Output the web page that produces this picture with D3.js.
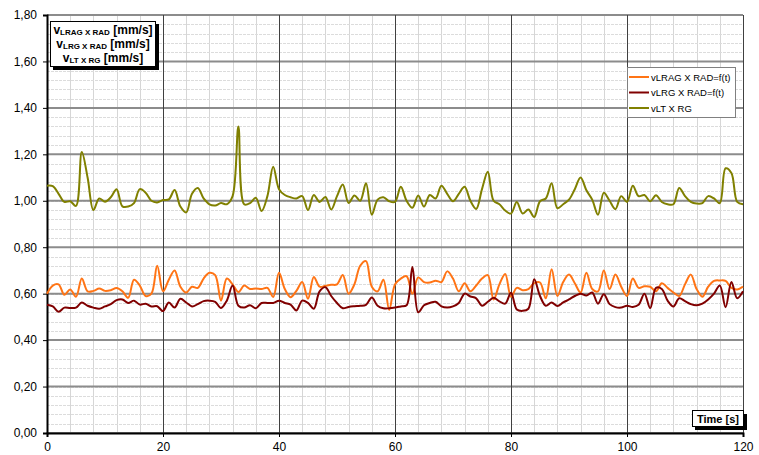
<!DOCTYPE html>
<html>
<head>
<meta charset="utf-8">
<script src="https://cdn.jsdelivr.net/npm/d3@7"></script>
<style>
  body { margin: 0; background: #fff; }
  svg { font-family: "Liberation Sans", Arial, sans-serif; }
</style>
</head>
<body>
<svg id="chart"></svg>
<script>
// time in seconds (one reading per second)
const time = [0,1,2,3,4,5,6,7,8,9,10,11,12,13,14,15,16,17,18,19,20,21,22,23,24,25,26,27,28,29,30,
  31,32,33,34,35,36,37,38,39,40,41,42,43,44,45,46,47,48,49,50,51,52,53,54,55,56,57,58,59,60,
  61,62,63,64,65,66,67,68,69,70,71,72,73,74,75,76,77,78,79,80,81,82,83,84,85,86,87,88,89,90,
  91,92,93,94,95,96,97,98,99,100,101,102,103,104,105,106,107,108,109,110,111,112,113,114,115,116,117,118,119,120];

// vLRAG X RAD [mm/s]
const vLRAG = [0.60,0.635,0.64,0.595,0.618,0.587,0.665,0.61,0.612,0.622,0.612,0.615,0.624,0.61,0.582,0.66,0.635,0.59,0.60,0.72,0.61,0.66,0.70,0.63,0.605,
  0.63,0.625,0.665,0.69,0.68,0.57,0.665,0.64,0.607,0.635,0.62,0.622,0.62,0.625,0.586,0.69,0.62,0.585,0.612,0.65,0.578,0.672,0.63,0.634,
  0.638,0.64,0.68,0.60,0.64,0.72,0.74,0.63,0.61,0.66,0.53,0.64,0.665,0.675,0.60,0.67,0.65,0.648,0.656,0.65,0.696,0.665,0.61,0.645,
  0.61,0.635,0.665,0.68,0.575,0.64,0.685,0.587,0.625,0.615,0.62,0.645,0.648,0.58,0.705,0.59,0.65,0.682,0.645,0.605,0.69,0.62,0.61,0.70,
  0.62,0.682,0.63,0.59,0.665,0.625,0.632,0.63,0.61,0.645,0.625,0.605,0.59,0.64,0.682,0.62,0.587,0.63,0.655,0.657,0.655,0.625,0.618,0.63];

// vLRG X RAD [mm/s]
const vLRG = [0.552,0.545,0.522,0.54,0.538,0.54,0.562,0.548,0.54,0.535,0.545,0.555,0.572,0.575,0.56,0.57,0.553,0.557,0.545,0.546,0.525,0.562,0.54,0.578,0.562,
  0.545,0.555,0.568,0.57,0.565,0.538,0.57,0.635,0.548,0.54,0.55,0.537,0.56,0.56,0.56,0.57,0.56,0.553,0.528,0.57,0.56,0.535,0.61,0.628,
  0.59,0.56,0.537,0.543,0.546,0.548,0.552,0.583,0.548,0.537,0.537,0.54,0.545,0.55,0.715,0.52,0.55,0.56,0.565,0.545,0.54,0.545,0.56,0.60,
  0.588,0.58,0.548,0.565,0.582,0.567,0.557,0.604,0.532,0.526,0.535,0.662,0.59,0.548,0.562,0.547,0.562,0.575,0.59,0.60,0.592,0.605,0.557,0.598,
  0.555,0.542,0.54,0.548,0.543,0.552,0.60,0.538,0.625,0.62,0.57,0.545,0.58,0.568,0.555,0.55,0.557,0.575,0.60,0.635,0.542,0.65,0.58,0.61];

// vLT X RG [mm/s]
const vLT = [1.065,1.063,1.03,0.995,0.998,0.978,1.21,1.10,0.96,1.01,0.996,1.015,1.05,0.976,0.975,0.99,1.05,1.035,1.0,0.993,1.003,1.006,1.046,0.975,0.95,
  1.03,1.055,1.01,0.985,0.98,0.99,0.985,1.02,1.32,0.985,0.99,1.013,0.956,1.02,1.147,1.05,1.025,1.015,1.01,1.02,0.96,1.025,0.995,1.016,
  0.962,1.02,1.07,0.99,1.023,1.0,1.075,0.94,1.005,1.015,0.998,0.995,1.06,1.0,0.97,1.023,0.975,1.025,1.01,1.065,1.03,0.998,1.03,1.06,
  1.0,0.965,1.05,1.125,1.0,0.985,0.958,0.945,0.995,0.945,0.962,0.93,0.998,1.01,1.075,0.968,0.985,1.005,1.05,1.1,1.045,1.005,0.94,1.035,
  1.0,0.964,1.02,0.995,1.065,1.02,1.025,0.998,1.024,0.995,0.985,0.985,1.055,1.02,0.995,0.988,0.99,1.02,1.01,0.99,1.14,1.12,0.995,0.985];

const seriesNames = ['vLRAG X RAD=f(t)', 'vLRG X RAD=f(t)', 'vLT X RG'];
const seriesColors = ['#ff7415', '#800000', '#808000'];
const xTicks = [0, 20, 40, 60, 80, 100, 120];
const yTicks = [0, 0.2, 0.4, 0.6, 0.8, 1.0, 1.2, 1.4, 1.6, 1.8];
const yLabelParts = [['v', 'LRAG X RAD', ' [mm/s]'], ['v', 'LRG X RAD', ' [mm/s]'], ['v', 'LT X RG', ' [mm/s]']];

const width = 759, height = 455;
const margin = {top: 15, right: 16, bottom: 22, left: 47};

const svg = d3.select('#chart')
    .attr('width', width)
    .attr('height', height);

const x = d3.scaleLinear().domain([0, 120]).range([margin.left, width - margin.right]);
const y = d3.scaleLinear().domain([0, 1.8]).range([height - margin.bottom, margin.top]);

// minor grid
const grid = svg.append('g');
grid.selectAll('.vminor')
    .data(d3.range(0, 121, 4))
    .join('line')
    .attr('x1', d => Math.round(x(d)) + 0.5).attr('x2', d => Math.round(x(d)) + 0.5)
    .attr('y1', y(0)).attr('y2', y(1.8))
    .attr('stroke', '#d6d6d6').attr('stroke-width', 1);
grid.selectAll('.hminor')
    .data(d3.range(0, 1.8001, 0.04))
    .join('line')
    .attr('x1', x(0)).attr('x2', x(120))
    .attr('y1', d => Math.round(y(d)) + 0.5).attr('y2', d => Math.round(y(d)) + 0.5)
    .attr('stroke', '#dcdcdc').attr('stroke-width', 1)
    .attr('stroke-dasharray', '3,1');

// major grid
grid.selectAll('.hmajor')
    .data(yTicks)
    .join('line')
    .attr('x1', x(0)).attr('x2', x(120))
    .attr('y1', d => y(d)).attr('y2', d => y(d))
    .attr('stroke', '#8c8c8c').attr('stroke-width', 2);
grid.selectAll('.vmajor')
    .data(xTicks)
    .join('line')
    .attr('x1', d => Math.round(x(d)) + 0.5).attr('x2', d => Math.round(x(d)) + 0.5)
    .attr('y1', y(0)).attr('y2', y(1.8))
    .attr('stroke', '#404040').attr('stroke-width', 1);

// axes
const fmt = d => d.toFixed(2).replace('.', ',');
const yAxis = svg.append('g')
    .attr('transform', `translate(${margin.left},0)`)
    .call(d3.axisLeft(y).tickValues(yTicks).tickFormat(fmt).tickSize(4).tickPadding(6));
const xAxis = svg.append('g')
    .attr('transform', `translate(0,${height - margin.bottom})`)
    .call(d3.axisBottom(x).tickValues(xTicks).tickSize(4).tickPadding(5));
[yAxis, xAxis].forEach(a => {
    a.select('.domain').attr('stroke', '#000').attr('stroke-width', 2);
    a.selectAll('.tick line').attr('stroke', '#000');
    a.selectAll('text').attr('font-size', 12).attr('fill', '#000')
        .attr('font-family', '"Liberation Sans", Arial, sans-serif');
});

// lines
const allSeries = [vLRAG, vLRG, vLT];
const line = d3.line()
    .x((d, i) => x(time[i]))
    .y(d => y(d))
    .curve(d3.curveCatmullRom.alpha(0.5));

const order = [2, 0, 1];
svg.append('g').selectAll('path')
    .data(order)
    .join('path')
    .attr('d', k => line(allSeries[k]))
    .attr('fill', 'none')
    .attr('stroke', k => seriesColors[k])
    .attr('stroke-width', 2)
    .attr('stroke-linejoin', 'round');

// y title box
const tb = svg.append('g');
tb.append('rect').attr('x', 53).attr('y', 24).attr('width', 106).attr('height', 46).attr('fill', '#000');
tb.append('rect').attr('x', 50.5).attr('y', 21.5).attr('width', 105).attr('height', 45)
    .attr('fill', '#fff').attr('stroke', '#000').attr('stroke-width', 1);
yLabelParts.forEach((p, i) => {
    const t = tb.append('text')
        .attr('x', 103).attr('y', 33.5 + i * 14)
        .attr('text-anchor', 'middle')
        .attr('font-weight', 'bold')
        .attr('font-size', 12);
    t.append('tspan').text(p[0]);
    t.append('tspan').attr('font-size', 8).attr('dy', 1.5).text(p[1]);
    t.append('tspan').attr('dy', -1.5).text(p[2]);
});

// legend
const lg = svg.append('g');
lg.append('rect').attr('x', 627.5).attr('y', 67.5).attr('width', 108).attr('height', 50)
    .attr('fill', '#fff').attr('stroke', '#808080');
seriesNames.forEach((n, i) => {
    const yy = 77 + i * 15.5;
    lg.append('line').attr('x1', 629).attr('x2', 649).attr('y1', yy).attr('y2', yy)
        .attr('stroke', seriesColors[i]).attr('stroke-width', 2);
    lg.append('text').attr('x', 651).attr('y', yy + 3.5).attr('font-size', 9.5).text(n);
});

// x title box
const xb = svg.append('g');
xb.append('rect').attr('x', 695).attr('y', 414).attr('width', 52).attr('height', 16).attr('fill', '#000');
xb.append('rect').attr('x', 692.5).attr('y', 410.5).attr('width', 51).attr('height', 16)
    .attr('fill', '#fff').attr('stroke', '#000');
xb.append('text').attr('x', 718).attr('y', 422.5).attr('text-anchor', 'middle')
    .attr('font-weight', 'bold').attr('font-size', 11).text('Time [s]');
</script>
</body>
</html>
